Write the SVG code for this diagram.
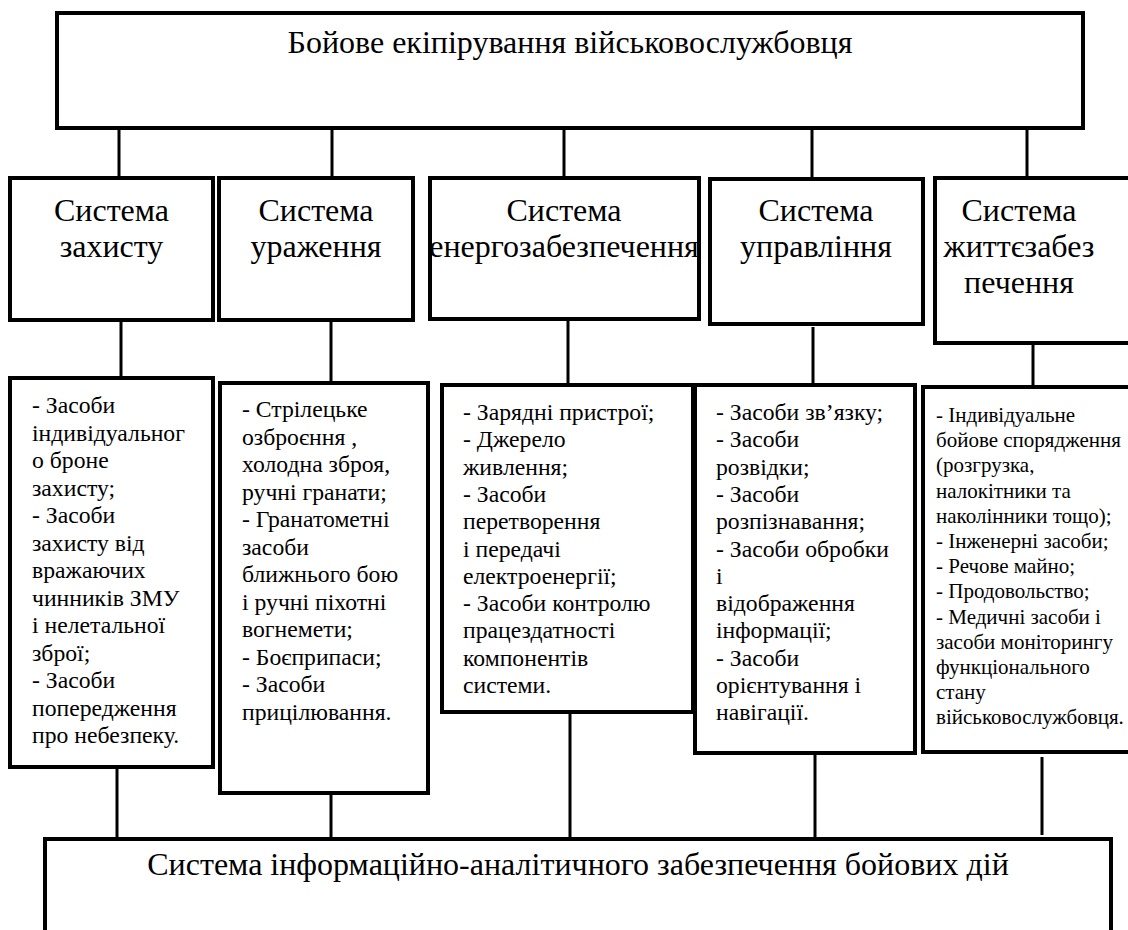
<svg xmlns="http://www.w3.org/2000/svg" width="1128" height="930" viewBox="0 0 1128 930" font-family="'Liberation Serif', 'Times New Roman', serif">
<style>
.box{fill:#fff;stroke:#000;stroke-width:4}
.ln{stroke:#000;stroke-width:3;fill:none}
.h{font-size:32px;text-anchor:middle}
.s{font-size:32px;text-anchor:middle}
.d{font-size:23.7px}
.e{font-size:21px}
</style>
<rect width="1128" height="930" fill="#fff"/>
<g id="connectors">
<line class="ln" x1="119" y1="128" x2="119" y2="178"/>
<line class="ln" x1="332" y1="128" x2="332" y2="178"/>
<line class="ln" x1="564" y1="128" x2="564" y2="178"/>
<line class="ln" x1="812" y1="128" x2="812" y2="178"/>
<line class="ln" x1="1027" y1="128" x2="1027" y2="178"/>
<line class="ln" x1="121" y1="320" x2="121" y2="378"/>
<line class="ln" x1="331" y1="320" x2="331" y2="383"/>
<line class="ln" x1="568" y1="319" x2="568" y2="385"/>
<line class="ln" x1="813" y1="327" x2="813" y2="385"/>
<line class="ln" x1="1033" y1="343" x2="1033" y2="387"/>
<line class="ln" x1="117" y1="767" x2="117" y2="839"/>
<line class="ln" x1="331" y1="793" x2="331" y2="841"/>
<line class="ln" x1="570" y1="712" x2="570" y2="839"/>
<line class="ln" x1="815" y1="753" x2="815" y2="839"/>
<line class="ln" x1="1042" y1="757" x2="1042" y2="835"/>
</g>
<g id="top">
<rect class="box" x="57" y="13" width="1026" height="115"/>
<text class="h" x="570" y="53">Бойове екіпірування військовослужбовця</text>
</g>
<g id="sys1">
<rect class="box" x="10" y="178" width="203" height="142"/>
<text class="s" x="111.5" y="221">Система</text>
<text class="s" x="111.5" y="257">захисту</text>
</g>
<g id="sys2">
<rect class="box" x="219" y="178" width="194" height="142"/>
<text class="s" x="316" y="221">Система</text>
<text class="s" x="316" y="257">ураження</text>
</g>
<g id="sys3">
<rect class="box" x="430" y="178" width="269" height="141"/>
<text class="s" x="564" y="221">Система</text>
<text class="s" x="564" y="257">енергозабезпечення</text>
</g>
<g id="sys4">
<rect class="box" x="710" y="179" width="213" height="145"/>
<text class="s" x="816" y="221">Система</text>
<text class="s" x="816" y="257">управління</text>
</g>
<g id="sys5">
<rect class="box" x="935" y="178" width="200" height="165"/>
<text class="s" x="1019" y="221">Система</text>
<text class="s" x="1019" y="257">життєзабез</text>
<text class="s" x="1019" y="293">печення</text>
</g>
<g id="det1">
<rect class="box" x="10" y="378" width="203" height="389"/>
<text class="d" x="32" y="413"><tspan x="32">- Засоби</tspan><tspan x="32" dy="27.5">індивідуальног</tspan><tspan x="32" dy="27.5">о броне</tspan><tspan x="32" dy="27.5">захисту;</tspan><tspan x="32" dy="27.5">- Засоби</tspan><tspan x="32" dy="27.5">захисту від</tspan><tspan x="32" dy="27.5">вражаючих</tspan><tspan x="32" dy="27.5">чинників ЗМУ</tspan><tspan x="32" dy="27.5">і нелетальної</tspan><tspan x="32" dy="27.5">зброї;</tspan><tspan x="32" dy="27.5">- Засоби</tspan><tspan x="32" dy="27.5">попередження</tspan><tspan x="32" dy="27.5">про небезпеку.</tspan></text>
</g>
<g id="det2">
<rect class="box" x="220" y="383" width="208" height="410"/>
<text class="d" x="242" y="417"><tspan x="242">- Стрілецьке</tspan><tspan x="242" dy="27.5">озброєння ,</tspan><tspan x="242" dy="27.5">холодна зброя,</tspan><tspan x="242" dy="27.5">ручні гранати;</tspan><tspan x="242" dy="27.5">- Гранатометні</tspan><tspan x="242" dy="27.5">засоби</tspan><tspan x="242" dy="27.5">ближнього бою</tspan><tspan x="242" dy="27.5">і ручні піхотні</tspan><tspan x="242" dy="27.5">вогнемети;</tspan><tspan x="242" dy="27.5">- Боєприпаси;</tspan><tspan x="242" dy="27.5">- Засоби</tspan><tspan x="242" dy="27.5">прицілювання.</tspan></text>
</g>
<g id="det3">
<rect class="box" x="442" y="385" width="251" height="327"/>
<text class="d" x="463" y="420"><tspan x="463">- Зарядні пристрої;</tspan><tspan x="463" dy="27.3">- Джерело</tspan><tspan x="463" dy="27.3">живлення;</tspan><tspan x="463" dy="27.3">- Засоби</tspan><tspan x="463" dy="27.3">перетворення</tspan><tspan x="463" dy="27.3">і передачі</tspan><tspan x="463" dy="27.3">електроенергії;</tspan><tspan x="463" dy="27.3">- Засоби контролю</tspan><tspan x="463" dy="27.3">працездатності</tspan><tspan x="463" dy="27.3">компонентів</tspan><tspan x="463" dy="27.3">системи.</tspan></text>
</g>
<g id="det4">
<rect class="box" x="695" y="385" width="220" height="368"/>
<text class="d" x="716" y="420"><tspan x="716">- Засоби зв’язку;</tspan><tspan x="716" dy="27.3">- Засоби</tspan><tspan x="716" dy="27.3">розвідки;</tspan><tspan x="716" dy="27.3">- Засоби</tspan><tspan x="716" dy="27.3">розпізнавання;</tspan><tspan x="716" dy="27.3">- Засоби обробки</tspan><tspan x="716" dy="27.3">і</tspan><tspan x="716" dy="27.3">відображення</tspan><tspan x="716" dy="27.3">інформації;</tspan><tspan x="716" dy="27.3">- Засоби</tspan><tspan x="716" dy="27.3">орієнтування і</tspan><tspan x="716" dy="27.3">навігації.</tspan></text>
</g>
<g id="det5">
<rect class="box" x="923" y="387" width="212" height="365"/>
<text class="e" x="936" y="422"><tspan x="936">- Індивідуальне</tspan><tspan x="936" dy="25.2">бойове спорядження</tspan><tspan x="936" dy="25.2">(розгрузка,</tspan><tspan x="936" dy="25.2">налокітники та</tspan><tspan x="936" dy="25.2">наколінники тощо);</tspan><tspan x="936" dy="25.2">- Інженерні засоби;</tspan><tspan x="936" dy="25.2">- Речове майно;</tspan><tspan x="936" dy="25.2">- Продовольство;</tspan><tspan x="936" dy="25.2">- Медичні засоби і</tspan><tspan x="936" dy="25.2">засоби моніторингу</tspan><tspan x="936" dy="25.2">функціонального</tspan><tspan x="936" dy="25.2">стану</tspan><tspan x="936" dy="25.2">військовослужбовця.</tspan></text>
</g>
<g id="bottom">
<rect class="box" x="45" y="839" width="1066" height="110"/>
<text class="h" x="578" y="875">Система інформаційно-аналітичного забезпечення бойових дій</text>
</g>
</svg>
